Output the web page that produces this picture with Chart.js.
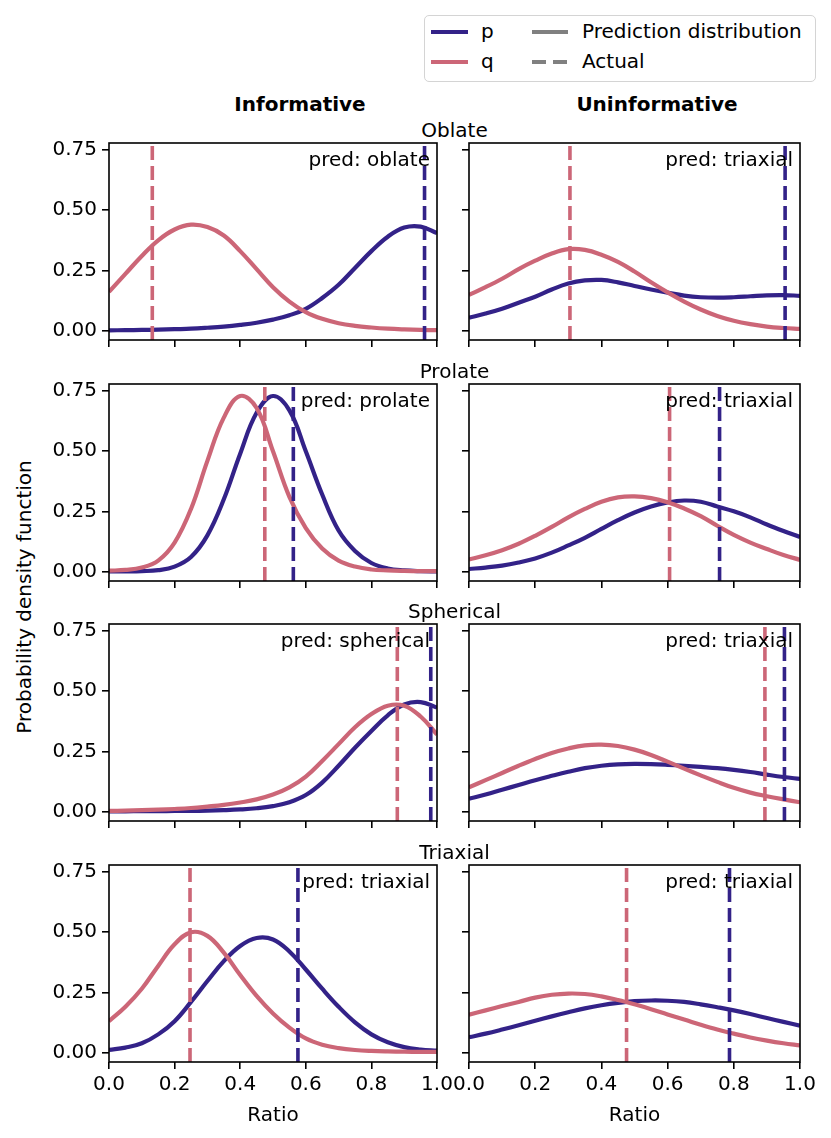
<!DOCTYPE html>
<html lang="en">
  <head>
    <meta charset="UTF-8" />
    <title>Ratio PDFs</title>
    <style>
      body {
        margin: 0;
        background: #fff;
        overflow: hidden;
      }
      #fig {
        position: relative;
        width: 831px;
        height: 1138px;
        font-family: "DejaVu Sans", sans-serif;
        color: #000;
      }
      #fig canvas {
        position: absolute;
      }
      .txt {
        position: absolute;
        font-size: 20px;
        line-height: 20px;
        white-space: nowrap;
      }
      .center {
        transform: translateX(-50%);
      }
      .bold {
        font-weight: bold;
      }
      .handle {
        position: absolute;
        height: 4px;
      }
      #legendBox {
        position: absolute;
        left: 424px;
        top: 15px;
        width: 392px;
        height: 67px;
        box-sizing: border-box;
        border: 1.5px solid #d4d4d4;
        border-radius: 5px;
      }
    </style>
  </head>
  <body>
    <div id="fig">
      <!-- legend -->
      <div id="legendBox"></div>
      <div class="handle" style="left:431px;top:30px;width:37px;background:#332288"></div>
      <div class="handle" style="left:431px;top:59.5px;width:37px;background:#cc6677"></div>
      <div class="txt" style="left:481px;top:21px">p</div>
      <div class="txt" style="left:481px;top:50.5px">q</div>
      <div class="handle" style="left:532px;top:30px;width:36px;background:#808080"></div>
      <div class="handle" style="left:532px;top:59.5px;width:14px;background:#808080"></div>
      <div class="handle" style="left:553px;top:59.5px;width:14px;background:#808080"></div>
      <div class="txt" style="left:582px;top:21px">Prediction distribution</div>
      <div class="txt" style="left:582px;top:50.5px">Actual</div>

      <!-- column titles -->
      <div class="txt bold center" style="left:300px;top:94px">Informative</div>
      <div class="txt bold center" style="left:657px;top:94px">Uninformative</div>

      <!-- y label -->
      <div class="txt" style="left:24px;top:597px;transform:translate(-50%,-50%) rotate(-90deg)">Probability density function</div>
    </div>

    <script src="https://cdn.jsdelivr.net/npm/chart.js"></script>
    <script>
      const ratioGrid = [0, 0.05, 0.1, 0.15, 0.2, 0.25, 0.3, 0.35, 0.4, 0.45, 0.5,
        0.55, 0.6, 0.65, 0.7, 0.75, 0.8, 0.85, 0.9, 0.95, 1.0];
      const xTicks = [0, 0.2, 0.4, 0.6, 0.8, 1.0];
      const yTicks = [0, 0.25, 0.5, 0.75];

      const shapes = ["Oblate", "Prolate", "Spherical", "Triaxial"];
      const columns = ["Informative", "Uninformative"];

      // pdf of p and q, one array per panel
      const pOblateInf = [0.000, 0.001, 0.002, 0.003, 0.005, 0.007, 0.011, 0.016, 0.023, 0.032, 0.045,
        0.063, 0.090, 0.135, 0.190, 0.260, 0.330, 0.390, 0.428, 0.432, 0.405];
      const qOblateInf = [0.160, 0.235, 0.310, 0.375, 0.420, 0.440, 0.430, 0.395, 0.330, 0.255, 0.180,
        0.120, 0.076, 0.048, 0.030, 0.019, 0.012, 0.007, 0.004, 0.002, 0.001];
      const pOblateUni = [0.053, 0.070, 0.090, 0.115, 0.140, 0.170, 0.195, 0.208, 0.210, 0.200, 0.185,
        0.170, 0.157, 0.145, 0.138, 0.136, 0.138, 0.142, 0.146, 0.147, 0.144];
      const qOblateUni = [0.148, 0.180, 0.215, 0.255, 0.290, 0.320, 0.338, 0.335, 0.315, 0.285, 0.245,
        0.200, 0.158, 0.120, 0.087, 0.060, 0.040, 0.026, 0.016, 0.010, 0.006];

      const pProlateInf = [0.000, 0.000, 0.001, 0.005, 0.020, 0.060, 0.150, 0.300, 0.490, 0.660, 0.730,
        0.670, 0.500, 0.320, 0.170, 0.085, 0.035, 0.012, 0.004, 0.001, 0.000];
      const qProlateInf = [0.003, 0.006, 0.016, 0.045, 0.120, 0.260, 0.460, 0.640, 0.730, 0.680, 0.500,
        0.310, 0.180, 0.095, 0.045, 0.020, 0.008, 0.004, 0.002, 0.001, 0.001];
      const pProlateUni = [0.010, 0.016, 0.024, 0.037, 0.054, 0.078, 0.108, 0.140, 0.177, 0.213, 0.245,
        0.270, 0.287, 0.295, 0.290, 0.270, 0.250, 0.225, 0.195, 0.168, 0.143];
      const qProlateUni = [0.050, 0.067, 0.088, 0.115, 0.148, 0.185, 0.225, 0.260, 0.290, 0.308, 0.312,
        0.305, 0.288, 0.262, 0.230, 0.190, 0.152, 0.120, 0.093, 0.068, 0.048];

      const pSphericalInf = [0.000, 0.000, 0.001, 0.001, 0.002, 0.002, 0.003, 0.005, 0.008, 0.013, 0.022,
        0.038, 0.068, 0.120, 0.190, 0.265, 0.335, 0.400, 0.445, 0.455, 0.432];
      const qSphericalInf = [0.002, 0.003, 0.005, 0.007, 0.010, 0.014, 0.020, 0.027, 0.037, 0.050, 0.070,
        0.100, 0.145, 0.210, 0.280, 0.350, 0.405, 0.440, 0.440, 0.395, 0.320];
      const pSphericalUni = [0.053, 0.070, 0.090, 0.110, 0.130, 0.148, 0.165, 0.180, 0.190, 0.196, 0.198,
        0.197, 0.194, 0.190, 0.185, 0.180, 0.173, 0.164, 0.153, 0.143, 0.135];
      const qSphericalUni = [0.100, 0.130, 0.160, 0.190, 0.218, 0.243, 0.262, 0.275, 0.278, 0.272, 0.257,
        0.235, 0.207, 0.178, 0.150, 0.123, 0.098, 0.078, 0.063, 0.050, 0.038];

      const pTriaxialInf = [0.010, 0.020, 0.038, 0.075, 0.130, 0.210, 0.297, 0.380, 0.443, 0.476, 0.470,
        0.420, 0.345, 0.265, 0.190, 0.125, 0.075, 0.042, 0.022, 0.012, 0.007];
      const qTriaxialInf = [0.130, 0.190, 0.265, 0.360, 0.450, 0.500, 0.485, 0.415, 0.322, 0.235, 0.162,
        0.103, 0.058, 0.032, 0.018, 0.010, 0.006, 0.004, 0.003, 0.002, 0.002];
      const pTriaxialUni = [0.063, 0.078, 0.095, 0.113, 0.132, 0.150, 0.167, 0.183, 0.196, 0.206, 0.213,
        0.216, 0.215, 0.210, 0.200, 0.188, 0.175, 0.160, 0.143, 0.127, 0.111];
      const qTriaxialUni = [0.157, 0.175, 0.193, 0.210, 0.228, 0.240, 0.245, 0.243, 0.233, 0.218, 0.200,
        0.180, 0.158, 0.137, 0.115, 0.095, 0.078, 0.062, 0.049, 0.038, 0.029];

      // actual ratios (dashed lines), rows = shapes, cols = [informative, uninformative]
      const actualP = [[0.962, 0.955], [0.562, 0.757], [0.981, 0.953], [0.576, 0.787]];
      const actualQ = [[0.132, 0.305], [0.475, 0.606], [0.879, 0.894], [0.247, 0.476]];
      const predicted = [["oblate", "triaxial"], ["prolate", "triaxial"],
        ["spherical", "triaxial"], ["triaxial", "triaxial"]];

      const pCurves = [[pOblateInf, pOblateUni], [pProlateInf, pProlateUni],
        [pSphericalInf, pSphericalUni], [pTriaxialInf, pTriaxialUni]];
      const qCurves = [[qOblateInf, qOblateUni], [qProlateInf, qProlateUni],
        [qSphericalInf, qSphericalUni], [qTriaxialInf, qTriaxialUni]];

      const colorP = "#332288";
      const colorQ = "#cc6677";
      const yMin = -0.04;
      const yMax = 0.78;
      const fontFamily = "DejaVu Sans";

      // plot area geometry in page pixels
      const areaLeft = [109, 469];
      const areaWidth = [328, 331];
      const areaTop = [143, 384, 624, 865];
      const areaHeight = 197;
      const margin = 20; // spare canvas round the plot area

      // box round plot + "pred: ..." label
      const frame = {
        id: "frame",
        afterDatasetsDraw(chart, args, options) {
          const { ctx, chartArea: { left, top, right, bottom } } = chart;
          ctx.save();
          ctx.font = "20px " + fontFamily;
          ctx.fillStyle = "#000";
          ctx.textAlign = "right";
          ctx.textBaseline = "alphabetic";
          ctx.fillText("pred: " + options.pred, right - 7, top + 22.5);
          ctx.lineWidth = 1.6;
          ctx.strokeStyle = "#000";
          ctx.strokeRect(left, top, right - left, bottom - top);
          ctx.restore();
        },
      };

      // nudge layout padding until the chart area sits where we want it
      function pinArea(chart, want) {
        for (let k = 0; k < 4; k++) {
          const a = chart.chartArea;
          const p = chart.options.layout.padding;
          p.left += want.left - a.left;
          p.top += want.top - a.top;
          p.right += a.right - want.right;
          p.bottom += a.bottom - want.bottom;
          chart.update("none");
        }
      }

      const toPoints = (vals) => vals.map((v, i) => ({ x: ratioGrid[i], y: v }));
      const vline = (x) => [{ x: x, y: yMin }, { x: x, y: yMax }];

      const fig = document.getElementById("fig");

      shapes.forEach((shape, r) => {
        // row title
        const t = document.createElement("div");
        t.className = "txt center";
        t.style.left = "454.5px";
        t.style.top = areaTop[r] - 23 + "px";
        t.textContent = shape;
        fig.appendChild(t);

        const isBottom = r === shapes.length - 1;
        columns.forEach((col, c) => {
          const isLeft = c === 0;
          const yAxisW = isLeft ? 60 : 12;
          const xAxisH = isBottom ? 66 : 10;
          const offL = yAxisW + margin;
          const cv = document.createElement("canvas");
          const w = offL + areaWidth[c] + margin;
          const h = margin + areaHeight + xAxisH + margin;
          cv.width = w;
          cv.height = h;
          cv.style.width = w + "px";
          cv.style.height = h + "px";
          cv.style.left = areaLeft[c] - offL + "px";
          cv.style.top = areaTop[r] - margin + "px";
          fig.appendChild(cv);

          const tickFont = { family: fontFamily, size: 20 };
          const gridOpts = {
            display: true,
            drawOnChartArea: false,
            drawTicks: true,
            tickLength: 7,
            color: "#000",
            lineWidth: 1.6,
          };

          const chart = new Chart(cv, {
            type: "line",
            data: {
              datasets: [
                {
                  label: "p",
                  data: toPoints(pCurves[r][c]),
                  borderColor: colorP,
                  borderWidth: 4.2,
                  pointRadius: 0,
                  tension: 0.4,
                  order: 4,
                },
                {
                  label: "q",
                  data: toPoints(qCurves[r][c]),
                  borderColor: colorQ,
                  borderWidth: 4.2,
                  pointRadius: 0,
                  tension: 0.4,
                  order: 3,
                },
                {
                  label: "q actual",
                  data: vline(actualQ[r][c]),
                  borderColor: colorQ,
                  borderWidth: 3.6,
                  borderDash: [14, 6],
                  pointRadius: 0,
                  order: 2,
                },
                {
                  label: "p actual",
                  data: vline(actualP[r][c]),
                  borderColor: colorP,
                  borderWidth: 3.6,
                  borderDash: [14, 6],
                  pointRadius: 0,
                  order: 1,
                },
              ],
            },
            options: {
              responsive: false,
              animation: false,
              events: [],
              layout: {
                autoPadding: false,
                padding: { top: margin, right: margin, bottom: margin, left: margin },
              },
              scales: {
                x: {
                  type: "linear",
                  min: 0,
                  max: 1,
                  afterBuildTicks: (s) => {
                    s.ticks = xTicks.map((v) => ({ value: v }));
                  },
                  afterFit: (s) => {
                    s.height = xAxisH;
                  },
                  grid: gridOpts,
                  border: { display: false },
                  ticks: {
                    display: isBottom,
                    autoSkip: false,
                    maxRotation: 0,
                    padding: 4,
                    color: "#000",
                    font: tickFont,
                    callback: (v) => Number(v).toFixed(1),
                  },
                  title: {
                    display: isBottom,
                    text: "Ratio",
                    color: "#000",
                    font: tickFont,
                    padding: { top: 2, bottom: 0 },
                  },
                },
                y: {
                  type: "linear",
                  min: yMin,
                  max: yMax,
                  afterBuildTicks: (s) => {
                    s.ticks = yTicks.map((v) => ({ value: v }));
                  },
                  afterFit: (s) => {
                    s.width = yAxisW;
                  },
                  grid: gridOpts,
                  border: { display: false },
                  ticks: {
                    display: isLeft,
                    padding: 5,
                    color: "#000",
                    font: tickFont,
                    callback: (v) => Number(v).toFixed(2),
                  },
                },
              },
              plugins: {
                legend: { display: false },
                tooltip: { enabled: false },
                frame: { pred: predicted[r][c] },
              },
            },
            plugins: [frame],
          });

          pinArea(chart, {
            left: offL,
            top: margin,
            right: offL + areaWidth[c],
            bottom: margin + areaHeight,
          });
        });
      });
    </script>
  </body>
</html>
